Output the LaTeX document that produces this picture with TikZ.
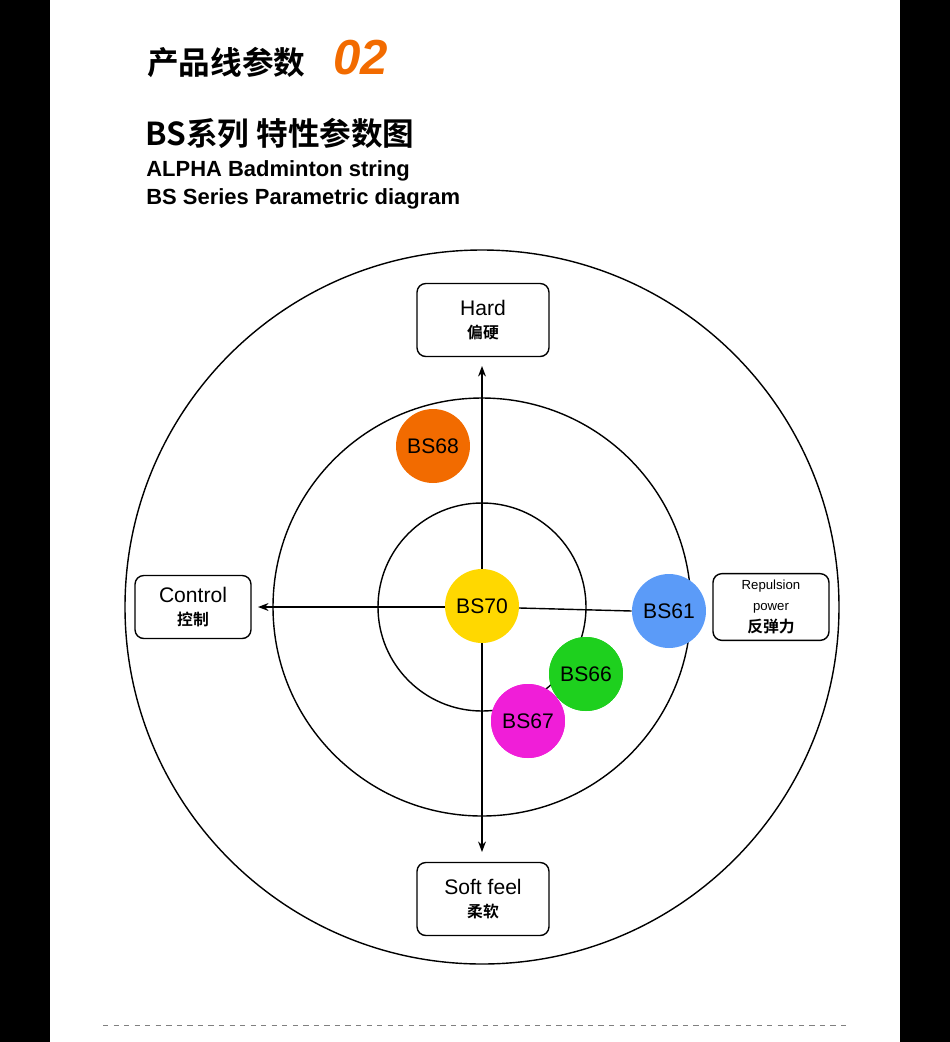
\documentclass[tikz,border=0pt]{standalone}
\usepackage{fontspec}
\setmainfont{Liberation Sans}
\newfontfamily\cjk{Noto Sans CJK SC}[BoldFont={Noto Sans CJK SC Bold}]
\usetikzlibrary{arrows.meta}
\definecolor{bsorange}{HTML}{F26B00}
\definecolor{bsyellow}{HTML}{FFD800}
\definecolor{bsblue}{HTML}{5B9BF8}
\definecolor{bsgreen}{HTML}{1ED01E}
\definecolor{bspink}{HTML}{F01ED8}
\tikzset{
  axisbox/.style={draw, rounded corners=5pt, thick, minimum width=2.64cm, minimum height=1.46cm, align=center, fill=white},
  ball/.style={circle, minimum size=1.48cm, inner sep=0pt, font=\fontsize{12}{12}\selectfont},
  ring/.style={thick},
}
\begin{document}
\begin{tikzpicture}[x=0.02cm, y=-0.02cm]
		\useasboundingbox (0,0) rectangle (950,1042);
		\fill[black] (0,0) rectangle (50,1042);
		\fill[black] (900,0) rectangle (950,1042);
		% titles
		\node[anchor=west, inner sep=0pt] (title) at (147,62) {\fontsize{18}{18}\selectfont\cjk\bfseries 产品线参数};
		\node[anchor=west, inner sep=0pt] (num) at (333,58) {\fontsize{28}{28}\selectfont\bfseries\itshape\color{bsorange}02};
		\node[anchor=west, inner sep=0pt] (sub) at (145,133) {\fontsize{18}{18}\selectfont\cjk\bfseries BS系列 特性参数图};
		\node[anchor=west, inner sep=0pt] (en1) at (146,171) {\fontsize{12.5}{12.5}\selectfont\bfseries ALPHA Badminton string};
		\node[anchor=west, inner sep=0pt] (en2) at (146,199) {\fontsize{12.5}{12.5}\selectfont\bfseries BS Series Parametric diagram};
		% rings
		\coordinate (o) at (482,607);
		\draw[ring] (o) circle[radius=357];
		\draw[ring] (o) circle[radius=209];
		\draw[ring] (o) circle[radius=104];
		% boxes
		\node[axisbox] (hard) at (483,320) {\fontsize{12}{14}\selectfont Hard\\[1pt]\fontsize{9}{10}\selectfont\cjk\bfseries 偏硬};
		\node[axisbox] (soft) at (483,899) {\fontsize{12}{14}\selectfont Soft feel\\[1pt]\fontsize{9}{10}\selectfont\cjk\bfseries 柔软};
		\node[axisbox, minimum width=2.32cm, minimum height=1.26cm] (ctrl) at (193,607) {\fontsize{12}{14}\selectfont Control\\[1pt]\fontsize{9}{10}\selectfont\cjk\bfseries 控制};
		\node[axisbox, minimum width=2.32cm, minimum height=1.3cm] (rep) at (771,607) {\fontsize{7.5}{8}\selectfont Repulsion\\\fontsize{7.5}{8}\selectfont power\\[1pt]\fontsize{9}{10}\selectfont\cjk\bfseries 反弹力};
		% balls
		\node[ball, fill=bsorange] (bs68) at (433,446) {BS68};
		\node[ball, fill=bsblue] (bs61) at (669,611) {BS61};
		% axes
		\coordinate (top) at (482,366);
		\coordinate (bot) at (482,852);
		\coordinate (lft) at (258,607);
		\draw[thick, -{Stealth[length=6pt]}] (o) -- (top);
		\draw[thick, -{Stealth[length=6pt]}] (o) -- (bot);
		\draw[thick, -{Stealth[length=6pt]}] (o) -- (lft);
		\draw[thick] (o) -- (bs61.west);
		\node[ball, fill=bsyellow] (bs70) at (482,606) {BS70};
		\node[ball, fill=bsgreen] (bs66) at (586,674) {BS66};
		\node[ball, fill=bspink] (bs67) at (528,721) {BS67};
		\draw[thick] (bs67) -- (bs66);
		\node[ball, fill=bsgreen] at (586,674) {BS66};
		\node[ball, fill=bspink] at (528,721) {BS67};
		% footer
		\draw[gray, dashed] (103,1025) -- (850,1025);
	\end{tikzpicture}
\end{document}
